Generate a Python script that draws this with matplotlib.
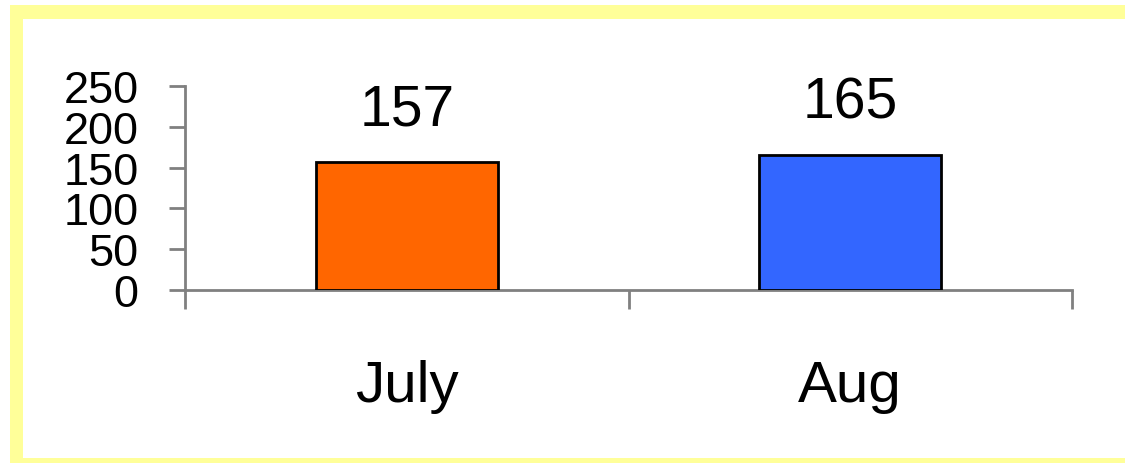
import matplotlib.pyplot as plt
from matplotlib.patches import Rectangle

# datos
meses = ['July', 'Aug']
valores = [157, 165]
colores = ['#FF6600', '#3366FF']
ticks_y = [0, 50, 100, 150, 200, 250]

plt.rcParams['font.family'] = ['Liberation Sans', 'DejaVu Sans']

W, H = 1125, 464
fig = plt.figure(figsize=(W / 100, H / 100), dpi=100)
fig.patch.set_facecolor('white')

# marco amarillo (arriba, izquierda, abajo)
amarillo = '#FFFF99'
for x0, y0, x1, y1 in [(10, 6, 1125, 20), (10, 6, 23, 464), (10, 459, 1125, 464)]:
    fig.patches.append(Rectangle((x0 / W, 1 - y1 / H), (x1 - x0) / W, (y1 - y0) / H,
                                 transform=fig.transFigure, facecolor=amarillo,
                                 edgecolor='none', zorder=0))

ax = fig.add_axes([185 / W, 1 - 291 / H, (1072 - 185) / W, (291 - 87) / H])
ax.set_facecolor('none')

x = list(range(len(meses)))
barras = ax.bar(x, valores, width=0.41, color=colores, edgecolor='black', linewidth=2, zorder=3)

# etiquetas de valor encima de cada barra
for xi, v in zip(x, valores):
    ax.annotate(str(v), (xi, v), xytext=(0, 27), textcoords='offset points',
                ha='center', va='baseline', fontsize=41)

ax.set_xlim(-0.5, len(meses) - 0.5)
ax.set_ylim(0, 250)
ax.set_yticks(ticks_y)
ax.set_yticklabels([str(t) for t in ticks_y], fontsize=32.5)

# marcas del eje x en los limites de las categorias, etiquetas al centro
ax.set_xticks([i - 0.5 for i in range(len(meses) + 1)])
ax.set_xticklabels([])
ax.set_xticks(x, minor=True)
ax.set_xticklabels(meses, minor=True, fontsize=42)

gris = '#808080'
for lado in ['top', 'right']:
    ax.spines[lado].set_visible(False)
for lado in ['left', 'bottom']:
    ax.spines[lado].set_color(gris)
    ax.spines[lado].set_linewidth(2)

ax.tick_params(axis='y', which='major', length=11.5, width=2, color=gris, pad=22)
ax.tick_params(axis='x', which='major', length=14, width=2, color=gris)
ax.tick_params(axis='x', which='minor', length=0, pad=50)

fig.savefig('out.png', dpi=100)
